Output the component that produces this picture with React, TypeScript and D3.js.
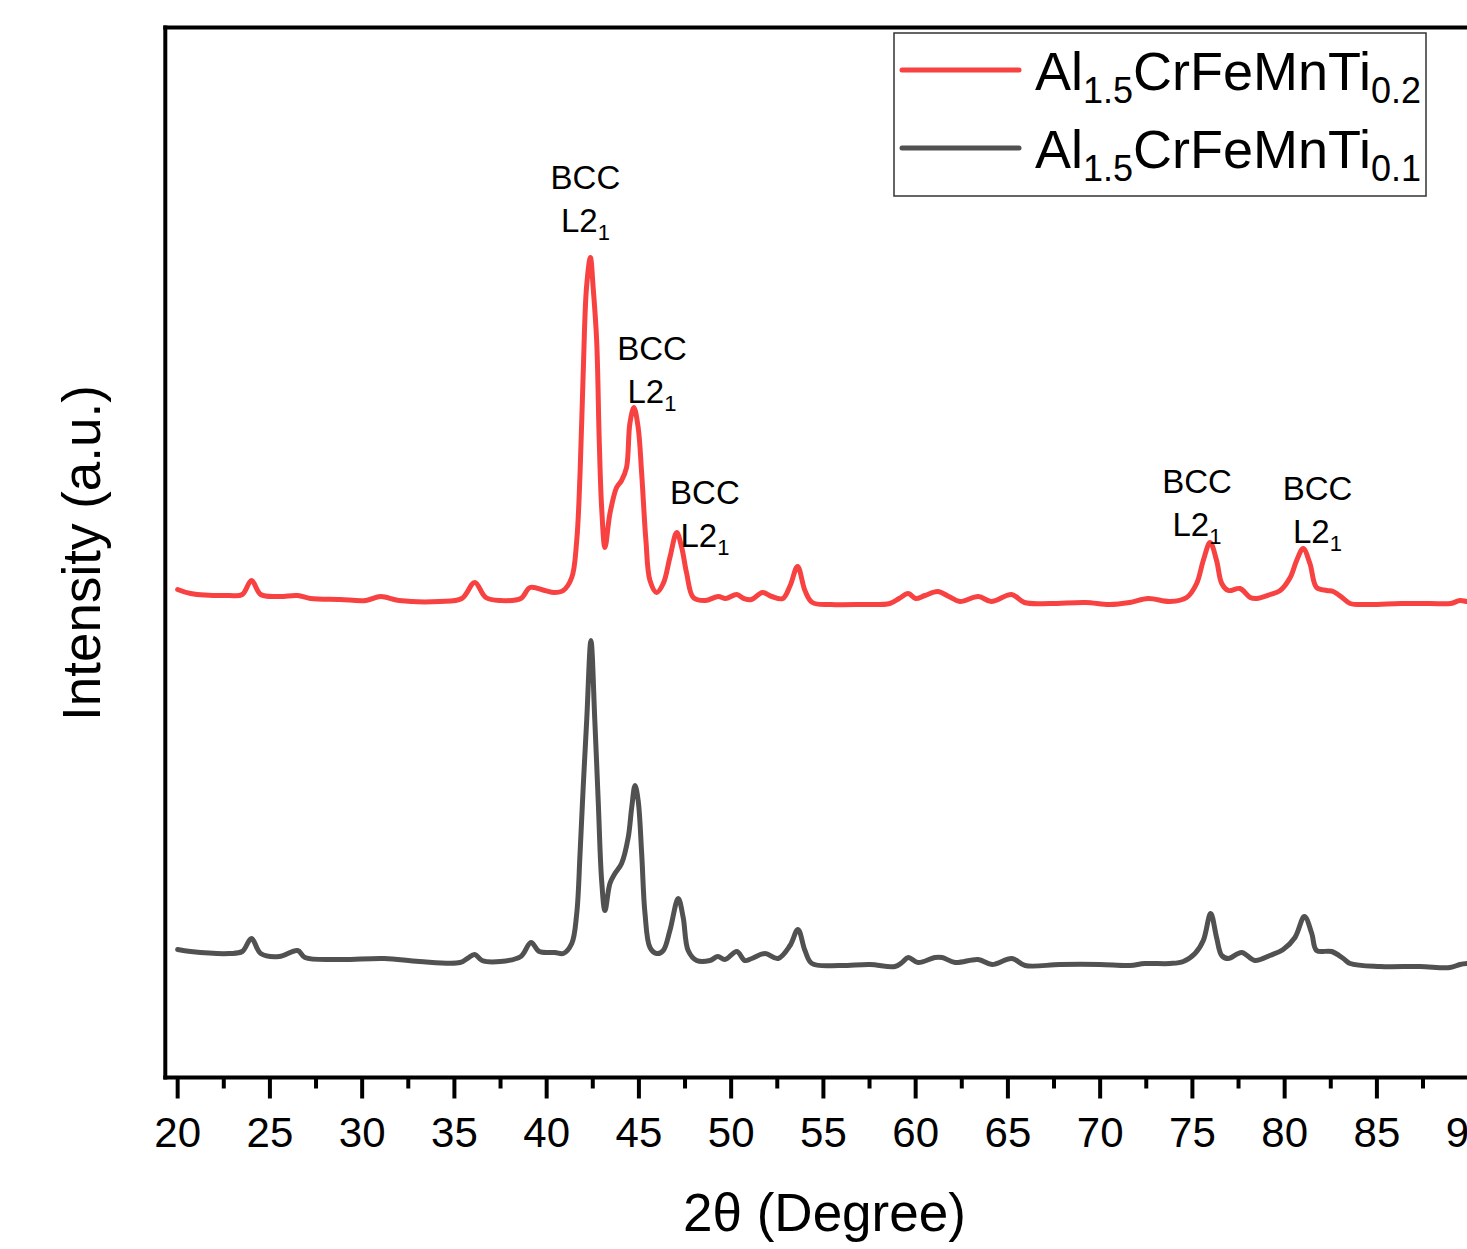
import React, { useEffect, useRef } from 'react';
import * as d3 from 'd3';

// XRD patterns: [2θ (deg), intensity (a.u., stacked)]
const ti02Pattern: [number, number][] = [
	[20.0, 488], [20.7, 484], [22.8, 482], [23.5, 483], [24.0, 497], [24.5, 483],
	[25.5, 481], [26.5, 482], [27.2, 479], [28.8, 478], [30.2, 477], [31.0, 481],
	[32.0, 477], [34.2, 476], [35.4, 479], [36.1, 495], [36.7, 480], [37.5, 477],
	[38.6, 479], [39.1, 490], [39.9, 487], [40.4, 485], [40.9, 487], [41.36, 500],
	[41.63, 537], [41.81, 604], [41.98, 704], [42.16, 790], [42.37, 820], [42.52, 790],
	[42.71, 737], [42.85, 637], [42.98, 570], [43.16, 530], [43.43, 564], [43.79, 590],
	[44.06, 597], [44.33, 610], [44.51, 654], [44.73, 670], [44.96, 650], [45.15, 604],
	[45.38, 537], [45.6, 497], [45.96, 485], [46.32, 494], [46.68, 520], [47.05, 545],
	[47.32, 530], [47.59, 504], [47.95, 480], [48.6, 477], [49.3, 481], [49.7, 479],
	[50.3, 483], [50.7, 479], [51.1, 478], [51.7, 485], [52.2, 481], [52.8, 479],
	[53.2, 492], [53.6, 511], [54.0, 487], [54.4, 475], [55.4, 473], [57.0, 473],
	[58.6, 474], [59.1, 479], [59.6, 484], [60.0, 479], [60.5, 482], [61.2, 486],
	[61.8, 481], [62.4, 476], [63.4, 481], [64.1, 476], [65.2, 483], [65.9, 475],
	[67.3, 474], [69.2, 475], [70.5, 473], [71.6, 475], [72.6, 479], [73.78, 476],
	[74.69, 480], [75.23, 494], [75.59, 517], [75.96, 535], [76.31, 517], [76.59, 494],
	[76.95, 487], [77.58, 489], [78.13, 480], [78.48, 479], [79.22, 483], [79.76, 487],
	[80.3, 500], [80.65, 517], [81.0, 529], [81.37, 514], [81.73, 490], [82.28, 487],
	[82.63, 486], [83.18, 479], [83.55, 474], [84.6, 473], [86.3, 474], [87.9, 474],
	[89.0, 474], [89.5, 477], [89.9, 476], [90.5, 476],
];

const ti01Pattern: [number, number][] = [
	[20.0, 128], [20.7, 126], [22.8, 124], [23.5, 126], [24.0, 139], [24.5, 124],
	[25.5, 121], [26.5, 127], [26.9, 120], [28.8, 118], [31.2, 119], [33.1, 116],
	[35.3, 115], [35.7, 119], [36.1, 123], [36.5, 117], [37.5, 116], [38.6, 121],
	[39.15, 135], [39.6, 126], [40.45, 125], [40.9, 124], [41.36, 134], [41.63, 164],
	[41.81, 224], [41.98, 290], [42.17, 357], [42.4, 437], [42.61, 357], [42.8, 274],
	[42.98, 197], [43.16, 167], [43.43, 194], [43.7, 204], [44.06, 214], [44.42, 240],
	[44.61, 270], [44.79, 292], [44.96, 277], [45.15, 224], [45.33, 164], [45.6, 130],
	[45.96, 124], [46.32, 127], [46.68, 147], [47.13, 179], [47.4, 160], [47.67, 127],
	[48.13, 117], [48.85, 117], [49.28, 121], [49.66, 118], [50.31, 126], [50.74, 117],
	[51.12, 119], [51.83, 124], [52.54, 119], [53.19, 132], [53.62, 148], [54.0, 127],
	[54.38, 114], [55.9, 112], [57.52, 113], [58.88, 111], [59.26, 115], [59.6, 120],
	[60.13, 115], [61.05, 120], [61.43, 120], [62.14, 115], [63.38, 118], [64.14, 113],
	[65.22, 119], [65.93, 112], [67.82, 113], [69.98, 113], [71.61, 112], [72.42, 114],
	[73.78, 114], [74.51, 116], [75.14, 124], [75.59, 137], [75.99, 164], [76.31, 140],
	[76.59, 122], [76.95, 119], [77.67, 125], [78.39, 117], [79.2, 122], [79.92, 128],
	[80.56, 140], [81.07, 161], [81.47, 144], [81.73, 127], [82.55, 126], [83.18, 119],
	[83.55, 114], [85.17, 111], [87.34, 111], [88.96, 110], [89.5, 113], [89.9, 114],
	[90.5, 114],
];

const majorTicks = d3.range(20, 95, 5);
const minorTicks = d3.range(22.5, 92.5, 5);

// legend text split into [normal, sub, normal, sub]
const seriesNames = [
	['Al', '1.5', 'CrFeMnTi', '0.2'],
	['Al', '1.5', 'CrFeMnTi', '0.1'],
];
const seriesColors = ['#f84242', '#515151'];

// phase labels: [2θ, intensity level of the "BCC" line]
const phaseLabels: [number, number][] = [
	[42.1, 889],
	[45.71, 718],
	[48.58, 574],
	[75.25, 585],
	[81.78, 578],
];

const font = '"Liberation Sans", Arial, sans-serif';

const App = () => {
	const chartRef = useRef<SVGSVGElement>(null);

	useEffect(() => {
		const svg = d3.select(chartRef.current);
		svg.selectAll('*').remove();

		const x = d3.scaleLinear().domain([19.33, 91]).range([165.3, 1487.6]);
		const y = d3.scaleLinear().domain([0, 1050]).range([1077.5, 27.5]);
		const [x0, x1] = x.range();
		const [yb, yt] = y.range();

		svg.append('defs')
			.append('clipPath')
			.attr('id', 'plotClip')
			.append('rect')
			.attr('x', x0)
			.attr('y', yt)
			.attr('width', x1 - x0)
			.attr('height', yb - yt);

		const line = d3
			.line<[number, number]>()
			.x((d) => x(d[0]))
			.y((d) => y(d[1]))
			.curve(d3.curveCatmullRom.alpha(0.5));

		const curves = svg.append('g').attr('clip-path', 'url(#plotClip)');
		[ti02Pattern, ti01Pattern].forEach((pattern, i) => {
			curves
				.append('path')
				.attr('d', line(pattern))
				.attr('fill', 'none')
				.attr('stroke', seriesColors[i])
				.attr('stroke-width', 5)
				.attr('stroke-linejoin', 'round')
				.attr('stroke-linecap', 'round');
		});

		// frame
		const frame = svg.append('g').attr('stroke', '#000').attr('stroke-width', 4);
		frame.append('line').attr('x1', x0).attr('x2', x0).attr('y1', yt - 2).attr('y2', yb + 2);
		frame.append('line').attr('x1', x0 - 2).attr('x2', x1).attr('y1', yt).attr('y2', yt);
		frame.append('line').attr('x1', x0 - 2).attr('x2', x1).attr('y1', yb).attr('y2', yb);

		// x ticks
		frame
			.selectAll('.major')
			.data(majorTicks)
			.enter()
			.append('line')
			.attr('x1', (d) => x(d))
			.attr('x2', (d) => x(d))
			.attr('y1', yb)
			.attr('y2', yb + 21);
		frame
			.selectAll('.minor')
			.data(minorTicks)
			.enter()
			.append('line')
			.attr('x1', (d) => x(d))
			.attr('x2', (d) => x(d))
			.attr('y1', yb)
			.attr('y2', yb + 11);

		svg.append('g')
			.selectAll('text')
			.data(majorTicks)
			.enter()
			.append('text')
			.attr('x', (d) => x(d))
			.attr('y', 1147)
			.attr('text-anchor', 'middle')
			.attr('font-family', font)
			.attr('font-size', 42)
			.text((d) => d);

		svg.append('text')
			.attr('x', (x0 + x1) / 2 - 2)
			.attr('y', 1231)
			.attr('text-anchor', 'middle')
			.attr('font-family', font)
			.attr('font-size', 53)
			.text('2θ (Degree)');

		svg.append('text')
			.attr('transform', `translate(100,553) rotate(-90)`)
			.attr('text-anchor', 'middle')
			.attr('font-family', font)
			.attr('font-size', 53)
			.text('Intensity (a.u.)');

		// phase labels
		const labels = svg.append('g').attr('font-family', font).attr('text-anchor', 'middle');
		phaseLabels.forEach(([t, lvl]) => {
			labels.append('text')
				.attr('x', x(t))
				.attr('y', y(lvl))
				.attr('font-size', 33)
				.text('BCC');
			const l2 = labels.append('text')
				.attr('x', x(t))
				.attr('y', y(lvl) + 43)
				.attr('font-size', 33);
			l2.append('tspan').text('L2');
			l2.append('tspan').attr('font-size', 22).attr('dy', 8).text('1');
		});

		// legend
		const legend = svg.append('g');
		legend.append('rect')
			.attr('x', 894)
			.attr('y', 33)
			.attr('width', 532)
			.attr('height', 163)
			.attr('fill', '#fff')
			.attr('stroke', '#333')
			.attr('stroke-width', 1.5);
		seriesNames.forEach((parts, i) => {
			const cy = 70 + i * 78;
			legend.append('line')
				.attr('x1', 902)
				.attr('x2', 1019)
				.attr('y1', cy)
				.attr('y2', cy)
				.attr('stroke', seriesColors[i])
				.attr('stroke-width', 5)
				.attr('stroke-linecap', 'round');
			const t = legend.append('text')
				.attr('x', 1035)
				.attr('y', cy + 20)
				.attr('font-family', font)
				.attr('font-size', 54);
			t.append('tspan').text(parts[0]);
			t.append('tspan').attr('font-size', 36).attr('dy', 13).text(parts[1]);
			t.append('tspan').attr('dy', -13).text(parts[2]);
			t.append('tspan').attr('font-size', 36).attr('dy', 13).text(parts[3]);
		});
	}, []);

	return (
		<svg
			ref={chartRef}
			width={1467}
			height={1249}
			style={{ position: 'absolute', left: 0, top: 0, background: '#fff' }}
		></svg>
	);
};

export default App;
